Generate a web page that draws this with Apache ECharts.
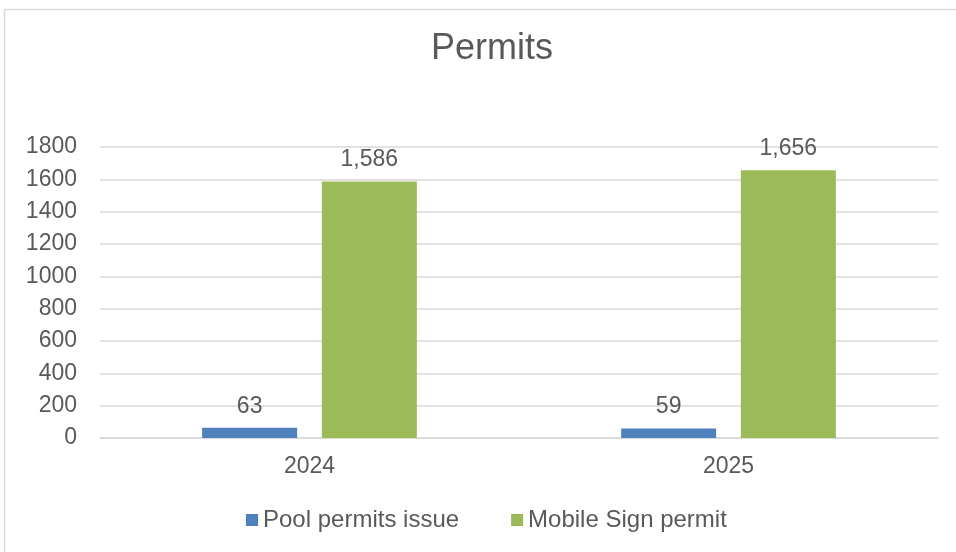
<!DOCTYPE html>
<html>
<head>
<meta charset="utf-8">
<script src="https://cdn.jsdelivr.net/npm/echarts@6/dist/echarts.min.js"></script>
<style>html,body{margin:0;padding:0;background:#fff}#c{width:956px;height:552px}</style>
</head>
<body>
<div id="c"></div>
<script>
const titleText = "Permits";
const categories = ["2024", "2025"];
const seriesNames = ["Pool permits issue", "Mobile Sign permit"];
const poolPermits = [63, 59];
const mobileSignPermits = [1586, 1656];
const yTicks = { min: 0, max: 1800, interval: 200 };

const textColor = "#595959";
const fontFamily = "'Liberation Sans', Arial, sans-serif";
const chart = echarts.init(document.getElementById('c'), null, { renderer: 'canvas' });
const labelCfg = {
  show: true, position: 'top', distance: 10, color: textColor,
  fontSize: 23, fontFamily: fontFamily,
  formatter: p => p.value.toLocaleString('en-US')
};
chart.setOption({
  animation: false,
  backgroundColor: '#fff',
  title: {
    text: titleText, left: 426, top: 26,
    textStyle: { color: textColor, fontSize: 36, fontWeight: 'normal', fontFamily: fontFamily }
  },
  graphic: [
    { type: 'line', shape: { x1: 4.5, y1: 9, x2: 4.5, y2: 552 }, style: { stroke: '#d9d9d9', lineWidth: 1.5 } },
    { type: 'line', shape: { x1: 4, y1: 9.5, x2: 956, y2: 9.5 }, style: { stroke: '#d9d9d9', lineWidth: 1.5 } }
  ],
  legend: {
    bottom: 15, left: 241,
    itemWidth: 12, itemHeight: 12, itemGap: 52,
    icon: 'rect',
    textStyle: { color: textColor, fontSize: 24, fontFamily: fontFamily },
    data: seriesNames
  },
  grid: { left: 100, right: 18, top: 147, bottom: 114 },
  xAxis: {
    type: 'category', data: categories,
    axisLine: { lineStyle: { color: '#d9d9d9', width: 1.5 } },
    axisTick: { show: false },
    axisLabel: { color: textColor, fontSize: 23, fontFamily: fontFamily, margin: 17 }
  },
  yAxis: {
    type: 'value', min: yTicks.min, max: yTicks.max, interval: yTicks.interval,
    axisLine: { show: false }, axisTick: { show: false },
    splitLine: { lineStyle: { color: '#d9d9d9', width: 1.5 } },
    axisLabel: { color: textColor, fontSize: 23, fontFamily: fontFamily, margin: 23, formatter: v => String(v) }
  },
  series: [
    { name: seriesNames[0], type: 'bar', data: poolPermits, barWidth: 95, barGap: '26%',
      itemStyle: { color: '#4F81BD' }, label: labelCfg },
    { name: seriesNames[1], type: 'bar', data: mobileSignPermits, barWidth: 95,
      itemStyle: { color: '#9BBB59' }, label: labelCfg }
  ]
});
</script>
</body>
</html>
